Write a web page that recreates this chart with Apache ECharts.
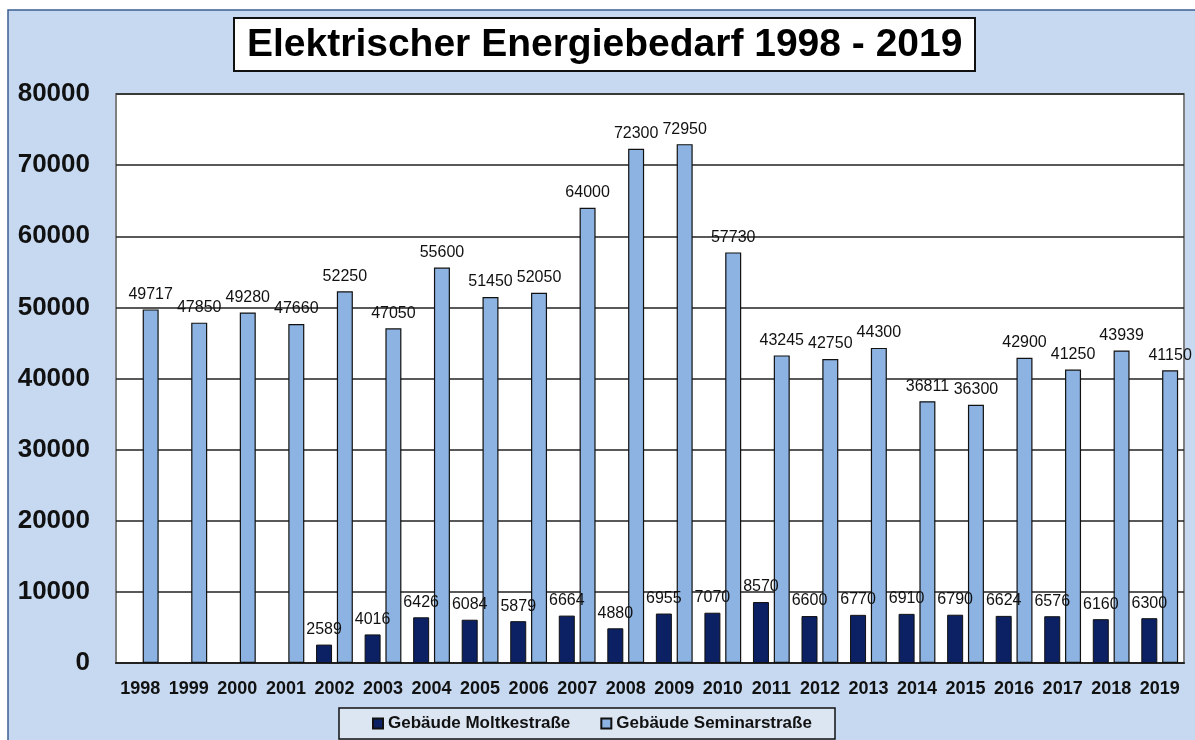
<!DOCTYPE html>
<html>
<head>
<meta charset="utf-8">
<script src="https://cdn.jsdelivr.net/npm/echarts@6/dist/echarts.min.js"></script>
<style>
  html, body { margin: 0; padding: 0; background: #fff; }
  #chart { width: 1195px; height: 740px; }
</style>
</head>
<body>
<div id="chart"></div>
<script>
// Jahre
var years = ['1998', '1999', '2000', '2001', '2002', '2003', '2004', '2005', '2006', '2007', '2008',
  '2009', '2010', '2011', '2012', '2013', '2014', '2015', '2016', '2017', '2018', '2019']

// Gebäude Moltkestraße (erst ab 2002)
var moltke = [null, null, null, null, 2589, 4016, 6426, 6084, 5879, 6664, 4880,
  6955, 7070, 8570, 6600, 6770, 6910, 6790, 6624, 6576, 6160, 6300]

// Gebäude Seminarstraße
var seminar = [49717, 47850, 49280, 47660, 52250, 47050, 55600, 51450, 52050, 64000, 72300,
  72950, 57730, 43245, 42750, 44300, 36811, 36300, 42900, 41250, 43939, 41150]

var myChart = echarts.init(document.getElementById('chart'))

var labelStyle = {
  show: true,
  position: 'top',
  distance: 7,
  color: '#111',
  fontFamily: 'Liberation Sans, Arial, sans-serif',
  fontSize: 16
}

myChart.setOption({
  animation: false,
  backgroundColor: '#fff',
  textStyle: { fontFamily: 'Liberation Sans, Arial, sans-serif' },
  graphic: [
    {
      // Hintergrund des Diagramms
      type: 'rect',
      z: -10,
      shape: { x: 8, y: 10, width: 1200, height: 740 },
      style: { fill: '#c6d9f1', stroke: '#3b5e91', lineWidth: 1.5 }
    },
    {
      // Rahmen der Legende
      type: 'rect',
      z: 1,
      shape: { x: 339, y: 708, width: 496, height: 31 },
      style: { fill: '#dce6f2', stroke: '#111', lineWidth: 1.5 }
    }
  ],
  title: {
    text: 'Elektrischer Energiebedarf 1998 - 2019',
    left: 234,
    top: 18,
    backgroundColor: '#fff',
    borderColor: '#111',
    borderWidth: 2,
    padding: [7, 13, 6, 13],
    textStyle: {
      fontFamily: 'Liberation Sans, Arial, sans-serif',
      fontSize: 39,
      fontWeight: 'bold',
      color: '#000',
      lineHeight: 40
    }
  },
  legend: {
    left: 372,
    top: 715,
    padding: 0,
    itemWidth: 10,
    itemHeight: 10,
    itemGap: 30,
    icon: 'rect',
    z: 5,
    textStyle: {
      fontFamily: 'Liberation Sans, Arial, sans-serif',
      fontSize: 17,
      fontWeight: 'bold',
      color: '#111'
    },
    data: ['Gebäude Moltkestraße', 'Gebäude Seminarstraße']
  },
  grid: {
    left: 116,
    top: 94,
    right: 11,
    bottom: 77,
    show: true,
    backgroundColor: '#fff',
    borderColor: '#808080',
    borderWidth: 2
  },
  xAxis: {
    type: 'category',
    data: years,
    axisTick: { show: false },
    axisLine: { lineStyle: { color: '#222', width: 2 } },
    axisLabel: {
      interval: 0,
      margin: 17,
      color: '#111',
      fontSize: 18,
      fontWeight: 'bold'
    }
  },
  yAxis: {
    type: 'value',
    min: 0,
    max: 80000,
    interval: 10000,
    axisLine: { show: false },
    axisTick: { show: false },
    splitLine: { lineStyle: { color: '#222', width: 1.5 } },
    axisLabel: {
      margin: 26,
      color: '#111',
      fontSize: 26,
      fontWeight: 'bold',
      formatter: function (v) { return String(v) }
    }
  },
  series: [
    {
      name: 'Gebäude Moltkestraße',
      type: 'bar',
      barWidth: 16,
      barGap: '30%',
      data: moltke,
      itemStyle: { color: '#0c2163', borderColor: '#111', borderWidth: 1 },
      label: labelStyle
    },
    {
      name: 'Gebäude Seminarstraße',
      type: 'bar',
      barWidth: 16,
      data: seminar,
      itemStyle: { color: '#8db3e2', borderColor: '#111', borderWidth: 1.2 },
      label: labelStyle
    }
  ]
})
</script>
</body>
</html>
